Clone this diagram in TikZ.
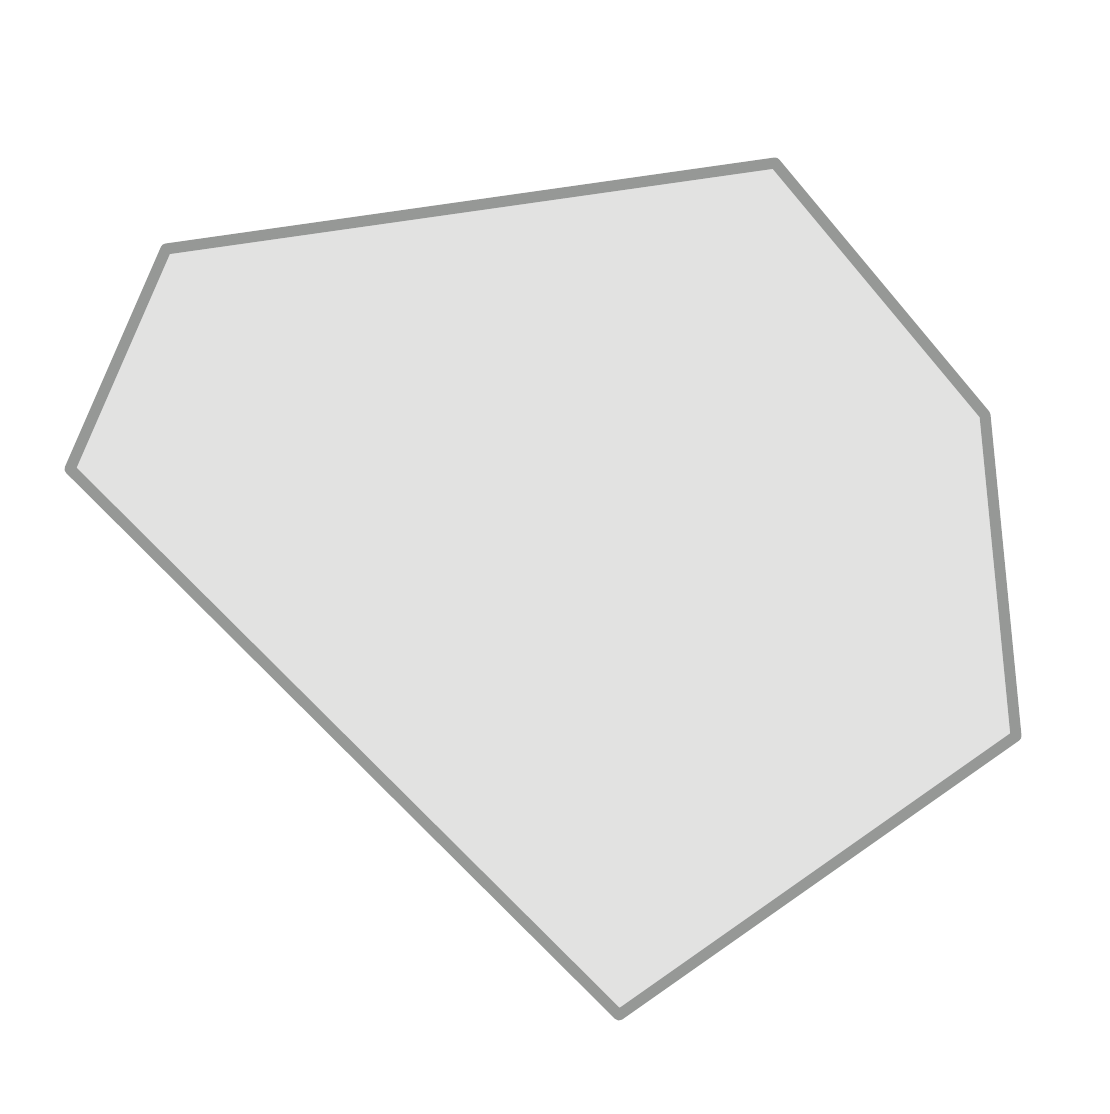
\documentclass[tikz,border=0pt]{standalone}
\begin{document}
\begin{tikzpicture}[x=1pt,y=-1pt]
\definecolor{edgegray}{RGB}{150,152,150}
\definecolor{fillgray}{RGB}{226,226,225}
\tikzset{poly/.style={draw=edgegray,fill=fillgray,line width=11pt,line join=round,line cap=round}}
\useasboundingbox (0,0) rectangle (1110,1114);
\coordinate (p1) at (166,249);
\coordinate (p2) at (775,163);
\coordinate (p3) at (985,415);
\coordinate (p4) at (1016,736);
\coordinate (p5) at (619,1015);
\coordinate (p6) at (70,469);
\draw[poly] (p1) -- (p2) -- (p3) -- (p4) -- (p5) -- (p6) -- cycle;
\end{tikzpicture}
\end{document}
